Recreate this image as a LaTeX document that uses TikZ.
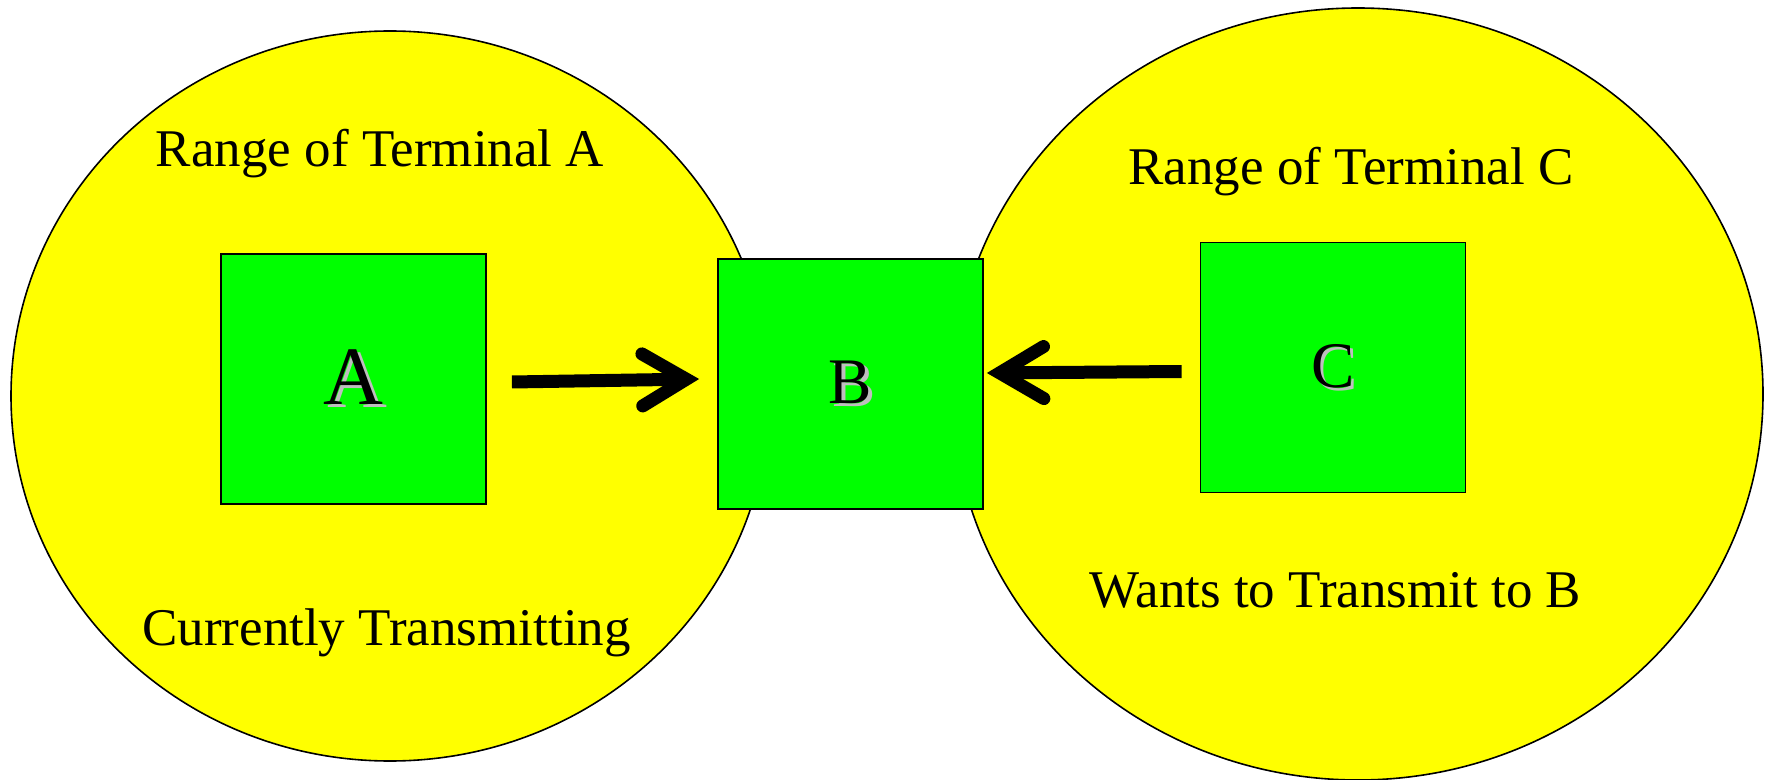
\documentclass[tikz,border=0pt]{standalone}
\usepackage{fontspec}
\setmainfont{Liberation Serif}
\usetikzlibrary{arrows.meta,shapes.geometric}
\definecolor{rangeyellow}{RGB}{255,255,0}
\definecolor{termgreen}{RGB}{0,255,0}
\definecolor{shadowgray}{RGB}{190,190,190}
% letter with a soft grey drop shadow
\newcommand{\embossed}[1]{\makebox[0pt][l]{\hspace{1.8pt}\raisebox{-1.5pt}{\textcolor{shadowgray}{#1}}}#1}
\begin{document}
\begin{tikzpicture}[x=0.5pt,y=-0.5pt,
  rangezone/.style={ellipse, draw=black, line width=0.8pt, fill=rangeyellow, inner sep=0pt},
  terminal/.style={rectangle, draw=black, line width=0.9pt, fill=termgreen,
    minimum width=132.5pt, minimum height=125pt, inner sep=0pt},
  rangetext/.style={anchor=base, font=\fontsize{26.5}{30}\selectfont, inner sep=0pt},
  link/.style={line width=6.5pt,
    -{Straight Barb[length=22pt,width=26pt,line cap=round,line join=miter]}}
]
\useasboundingbox (0,0) rectangle (1765,780);

% transmission ranges
\node[rangezone, minimum width=379pt, minimum height=365pt] (rangeA) at (390,396) {};
\node[rangezone, minimum width=405pt, minimum height=386pt] (rangeC) at (1358,394) {};

% range captions
\node[rangetext] (capA) at (380,167) {Range of Terminal A};
\node[rangetext] (noteA) at (386.5,645) {Currently Transmitting};
\node[rangetext] (capC) at (1351,185) {Range of Terminal C};
\node[rangetext] (noteC) at (1335.5,607) {Wants to Transmit to B};

% terminals
\node[terminal] (A) at (353.5,379) {\fontsize{41.5}{45}\selectfont\embossed{A}};
\node[terminal] (B) at (850.5,384) {\fontsize{32.5}{36}\selectfont\embossed{B}};
\node[terminal] (C) at (1333,367.5) {\fontsize{32.5}{36}\selectfont\embossed{C}};

% transmissions towards B
\draw[link] ([shift={(25,3)}]A.east) -- ([shift={(-18,-5)}]B.west);
\draw[link] ([shift={(-18,4)}]C.west) -- ([shift={(3,-11)}]B.east);
\end{tikzpicture}
\end{document}
